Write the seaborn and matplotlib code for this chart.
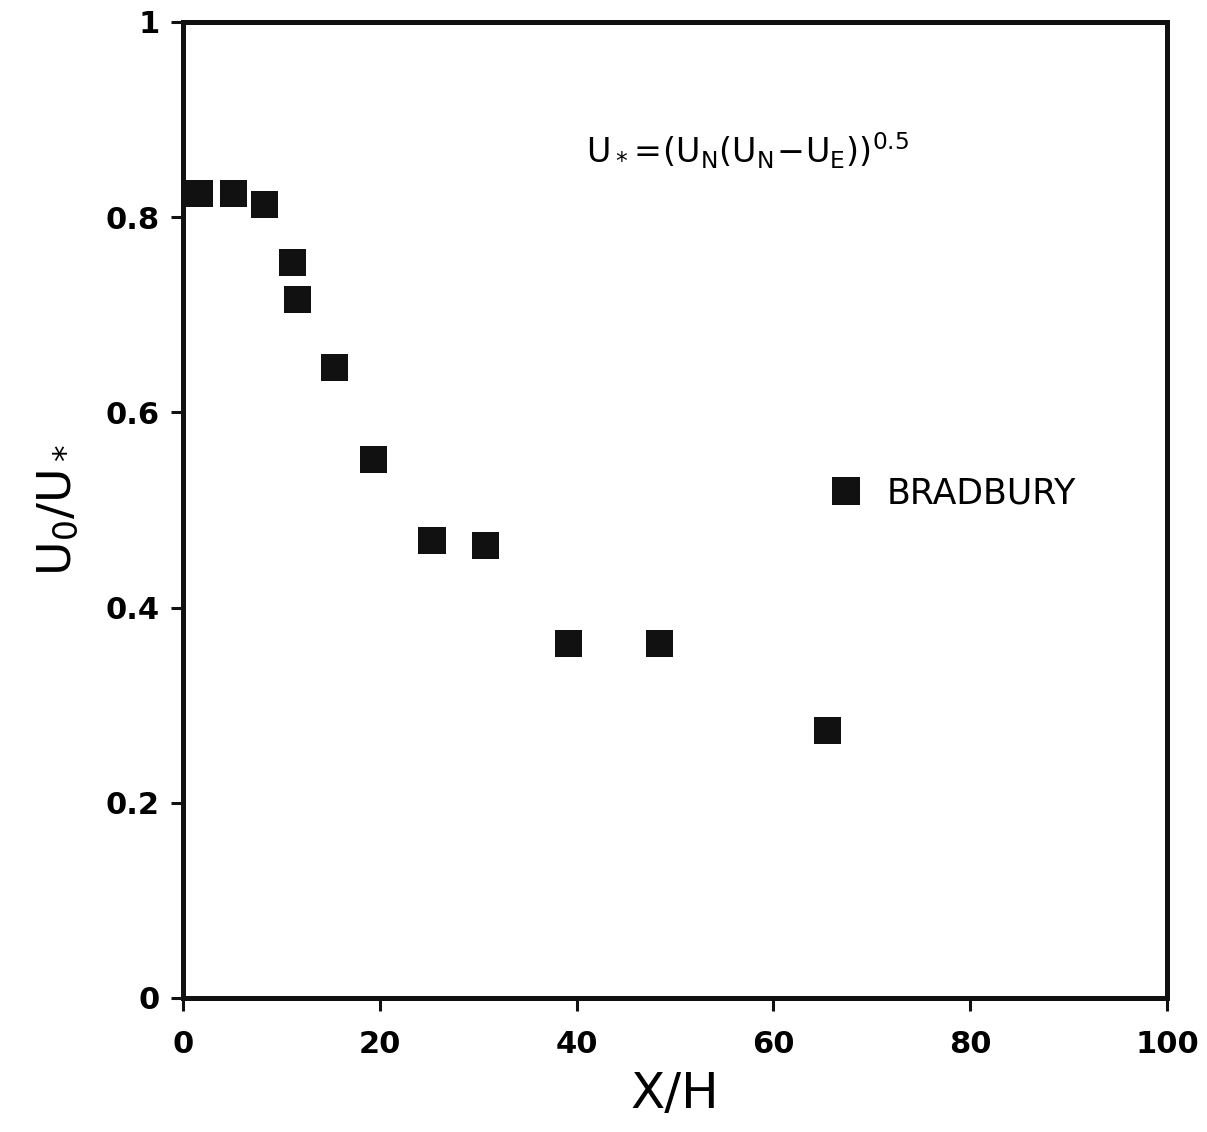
import matplotlib
matplotlib.use("Agg")
import matplotlib.pyplot as plt
import seaborn as sns
import pandas as pd

x_over_h = [1.7, 5.1, 8.3, 11.1, 11.6, 15.4, 19.4, 25.3, 30.7, 39.2, 48.4, 65.5]
u0_over_ustar = [0.824, 0.824, 0.813, 0.754, 0.716, 0.646, 0.552, 0.469, 0.464, 0.363, 0.363, 0.274]
series_name = "BRADBURY"
x_ticks = [0, 20, 40, 60, 80, 100]
y_ticks = [0, 0.2, 0.4, 0.6, 0.8, 1]
y_tick_labels = ["0", "0.2", "0.4", "0.6", "0.8", "1"]

sns.set_theme(style="ticks")
plt.rcParams["font.family"] = ["DejaVu Sans"]
plt.rcParams["text.color"] = "#000000"
plt.rcParams["axes.labelcolor"] = "#000000"
plt.rcParams["xtick.color"] = "#000000"
plt.rcParams["ytick.color"] = "#000000"

df = pd.DataFrame({"x": x_over_h, "y": u0_over_ustar, "s": series_name})

fig = plt.figure(figsize=(12.07, 11.32), dpi=100)
ax = fig.add_axes([0.1516, 0.1184, 0.8154, 0.8622])

sns.scatterplot(data=df, x="x", y="y", hue="s", palette=["#111111"], marker="s",
                s=380, edgecolor="none", ax=ax, legend=True)

ax.set_xlim(0, 100)
ax.set_ylim(0, 1)
ax.set_xticks(x_ticks)
ax.set_yticks(y_ticks)
ax.set_yticklabels(y_tick_labels)
for sp in ax.spines.values():
    sp.set_linewidth(3.6)
    sp.set_color("#111111")
ax.tick_params(axis="both", direction="out", length=9, width=2.2, color="#111111",
               labelsize=22, labelcolor="#000000")
ax.tick_params(axis="x", pad=14)
ax.tick_params(axis="y", pad=8)
for lab in ax.get_xticklabels() + ax.get_yticklabels():
    lab.set_fontweight("bold")

ax.set_xlabel("X/H", fontsize=36, labelpad=8, color="#000000")
ax.set_ylabel(r"$\mathregular{U_0/U_*}$", fontsize=34, labelpad=18, color="#000000")

ax.text(41.0, 0.868, r"$\mathregular{U_*\!=\!(U_N(U_N\!-\!U_E))^{0.5}}$",
        fontsize=24, ha="left", va="center", color="#000000")

leg = ax.legend(loc="center left", bbox_to_anchor=(0.607, 0.517), frameon=False,
                handletextpad=0.15, markerscale=1.0,
                prop={"size": 25, "weight": "medium"})
for t in leg.get_texts():
    t.set_color("#000000")

fig.savefig("out.png", dpi=100, facecolor="white")
